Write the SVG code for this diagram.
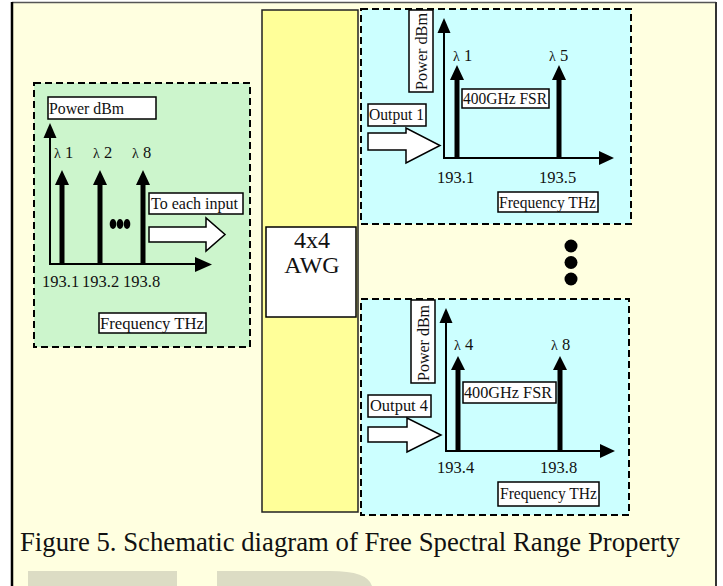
<svg xmlns="http://www.w3.org/2000/svg" width="723" height="586" viewBox="0 0 723 586">
<style>
text{font-family:"Liberation Serif","Times New Roman",serif;fill:#111}
.lbl{font-size:16px}
.tick{font-size:16.5px}
.box{fill:#fff;stroke:#000;stroke-width:1.5}
.dash{stroke:#000;stroke-width:2;stroke-dasharray:7,4}
.axis{stroke:#000;stroke-width:2;fill:none}
.line{stroke:#000;stroke-width:5}
.hollow{fill:#fff;stroke:#000;stroke-width:1.5;stroke-linejoin:miter}
</style>
<rect x="0" y="0" width="723" height="586" fill="#fff"/>
<rect x="12" y="2" width="704" height="584" fill="#ffffe0"/>
<line x1="12" y1="2.5" x2="716" y2="2.5" stroke="#555" stroke-width="1.5"/>
<line x1="12" y1="2" x2="12" y2="586" stroke="#000" stroke-width="2.5"/>
<line x1="716" y1="2" x2="716" y2="586" stroke="#333" stroke-width="2"/>
<g id="watermark" fill="#dcdcc4">
<rect x="28" y="571" width="149" height="15"/>
<path d="M217 571 H330 Q368 571 372 586 H217 Z"/>
</g>

<g id="input-spectrum">
<rect x="34" y="83" width="216" height="264" fill="#ccf5cc" class="dash"/>
<rect x="48" y="97" width="108" height="22" class="box"/>
<text x="49" y="114" class="lbl" textLength="75" lengthAdjust="spacingAndGlyphs">Power dBm</text>
<line x1="50" y1="136" x2="50" y2="264" class="axis"/>
<polygon points="50,123 43.5,138 56.5,138" fill="#000"/>
<line x1="49" y1="264" x2="197" y2="264" class="axis"/>
<polygon points="212,264.5 195,257 195,272" fill="#000"/>
<line x1="62" y1="264" x2="62" y2="183" class="line"/>
<polygon points="62,170 55,185 69,185" fill="#000"/>
<line x1="100" y1="264" x2="100" y2="183" class="line"/>
<polygon points="100,170 93,185 107,185" fill="#000"/>
<line x1="143" y1="264" x2="143" y2="183" class="line"/>
<polygon points="143,170 136,185 150,185" fill="#000"/>
<text x="54" y="158" class="tick"><tspan font-size="14">λ</tspan> 1</text>
<text x="93" y="158" class="tick"><tspan font-size="14">λ</tspan> 2</text>
<text x="132" y="158" class="tick"><tspan font-size="14">λ</tspan> 8</text>
<ellipse cx="113" cy="224" rx="3.3" ry="5" fill="#000"/>
<ellipse cx="120" cy="224" rx="3.3" ry="5" fill="#000"/>
<ellipse cx="127" cy="224" rx="3.3" ry="5" fill="#000"/>
<rect x="149" y="193" width="94" height="21" class="box"/>
<text x="151" y="209" class="lbl" textLength="87" lengthAdjust="spacingAndGlyphs">To each input</text>
<text x="42" y="287" class="tick">193.1</text>
<text x="82" y="287" class="tick">193.2</text>
<text x="123" y="287" class="tick">193.8</text>
<rect x="99" y="313" width="107" height="20" class="box"/>
<text x="100" y="329" class="lbl" textLength="104" lengthAdjust="spacingAndGlyphs">Frequency THz</text>
</g>

<g id="awg">
<rect x="262" y="10" width="96" height="502" fill="#ffff99" stroke="#222" stroke-width="1.5"/>
<rect x="266" y="227" width="90" height="90" class="box"/>
<text x="312" y="248" font-size="24" text-anchor="middle">4x4</text>
<text x="312" y="273" font-size="24" text-anchor="middle">AWG</text>
</g>

<g id="output-1">
<rect x="361" y="9" width="270" height="215" fill="#ccffff" class="dash"/>
<rect x="409" y="10" width="24" height="82" class="box"/>
<text transform="translate(427,90) rotate(-90)" class="lbl" textLength="77" lengthAdjust="spacingAndGlyphs">Power dBm</text>
<line x1="444" y1="30" x2="444" y2="158" class="axis"/>
<polygon points="444,18 437.5,33 450.5,33" fill="#000"/>
<line x1="443" y1="158" x2="601" y2="158" class="axis"/>
<polygon points="614,158 599,151 599,165" fill="#000"/>
<line x1="457" y1="158" x2="457" y2="78" class="line"/>
<polygon points="457,65 450,80 464,80" fill="#000"/>
<line x1="559" y1="158" x2="559" y2="78" class="line"/>
<polygon points="559,65 552,80 566,80" fill="#000"/>
<text x="453" y="61" class="tick"><tspan font-size="14">λ</tspan> 1</text>
<text x="549" y="61" class="tick"><tspan font-size="14">λ</tspan> 5</text>
<rect x="462" y="89" width="87" height="19" class="box"/>
<text x="463" y="104" class="lbl" textLength="84" lengthAdjust="spacingAndGlyphs">400GHz FSR</text>
<rect x="368" y="104" width="58" height="22" class="box"/>
<text x="369" y="120" class="lbl" textLength="55" lengthAdjust="spacingAndGlyphs">Output 1</text>
<text x="437" y="183" class="tick">193.1</text>
<text x="539" y="183" class="tick">193.5</text>
<rect x="498" y="192" width="100" height="20" class="box"/>
<text x="499" y="208" class="lbl" textLength="97" lengthAdjust="spacingAndGlyphs">Frequency THz</text>
</g>

<g id="ellipsis">
<circle cx="571" cy="246" r="6.5" fill="#000"/>
<circle cx="571" cy="262.5" r="6.5" fill="#000"/>
<circle cx="571" cy="279" r="6.5" fill="#000"/>
</g>

<g id="output-4">
<rect x="361" y="299" width="268" height="216" fill="#ccffff" class="dash"/>
<rect x="411" y="300" width="24" height="83" class="box"/>
<text transform="translate(429,381) rotate(-90)" class="lbl" textLength="76" lengthAdjust="spacingAndGlyphs">Power dBm</text>
<line x1="446" y1="320" x2="446" y2="451" class="axis"/>
<polygon points="446,308 439.5,323 452.5,323" fill="#000"/>
<line x1="445" y1="451" x2="602" y2="451" class="axis"/>
<polygon points="615,451 600,444 600,458" fill="#000"/>
<line x1="458" y1="451" x2="458" y2="368" class="line"/>
<polygon points="458,356 451,370 465,370" fill="#000"/>
<line x1="560" y1="451" x2="560" y2="368" class="line"/>
<polygon points="560,356 553,370 567,370" fill="#000"/>
<text x="454" y="350" class="tick"><tspan font-size="14">λ</tspan> 4</text>
<text x="551" y="350" class="tick"><tspan font-size="14">λ</tspan> 8</text>
<rect x="463" y="382" width="93" height="21" class="box"/>
<text x="464" y="398" class="lbl" textLength="88" lengthAdjust="spacingAndGlyphs">400GHz FSR</text>
<rect x="368" y="395" width="63" height="22" class="box"/>
<text x="370" y="411" class="lbl" textLength="58" lengthAdjust="spacingAndGlyphs">Output 4</text>
<text x="437" y="473" class="tick">193.4</text>
<text x="540" y="473" class="tick">193.8</text>
<rect x="498" y="482" width="101" height="24" class="box"/>
<text x="500" y="499" class="lbl" textLength="97" lengthAdjust="spacingAndGlyphs">Frequency THz</text>
</g>

<g id="connectors">
<polygon points="149,227 206,227 206,218 225,234.5 206,251 206,242 149,242" class="hollow"/>
<polygon points="368,133 406,133 406,128 440,145.5 406,163 406,150 368,150" class="hollow"/>
<polygon points="368,427 407,427 407,418 441,435 407,452 407,442 368,442" class="hollow"/>
</g>

<text x="20" y="551" font-size="27" textLength="660" lengthAdjust="spacingAndGlyphs">Figure 5. Schematic diagram of Free Spectral Range Property</text>
</svg>
